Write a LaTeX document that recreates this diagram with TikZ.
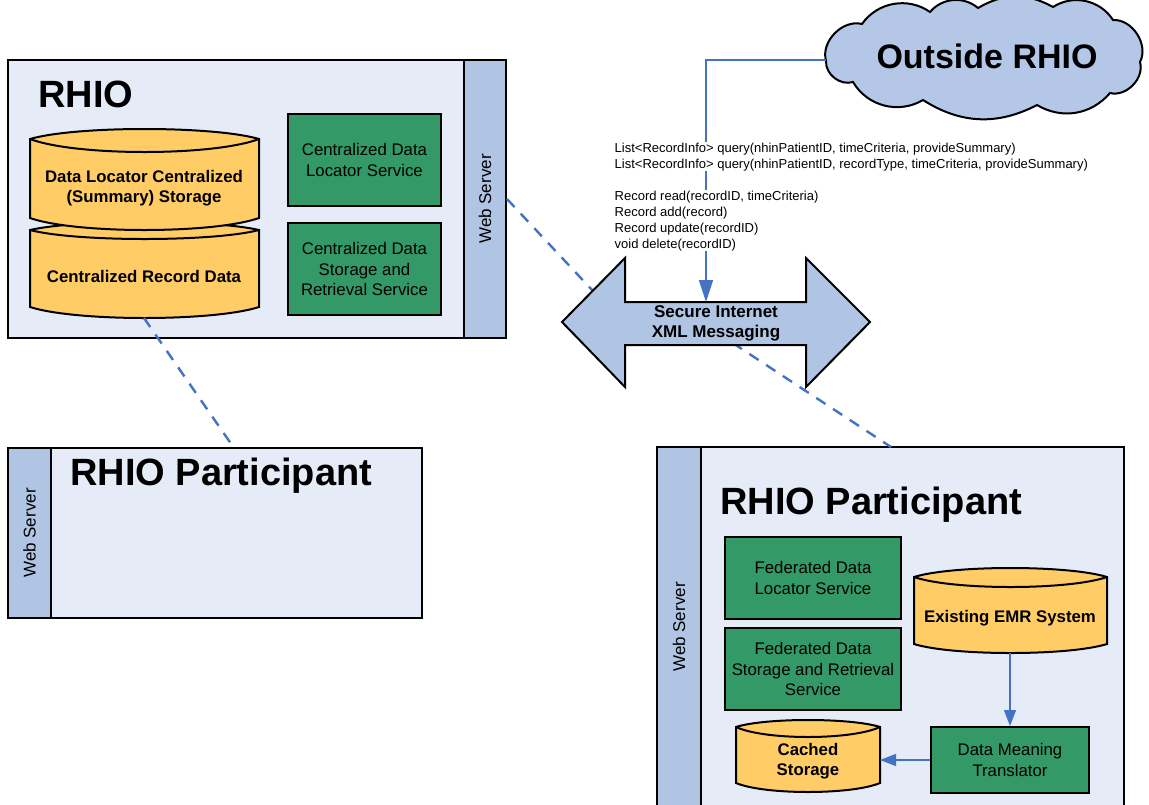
\documentclass[tikz,border=0pt]{standalone}
\usepackage{fontspec}
\setmainfont{Liberation Sans}
\usetikzlibrary{arrows.meta}

\definecolor{boxbg}{HTML}{E6ECF7}
\definecolor{stripbg}{HTML}{B0C4E4}
\definecolor{cloudbg}{HTML}{B4C7E7}
\definecolor{svcgreen}{HTML}{339966}
\definecolor{drumfill}{HTML}{FFCC66}
\definecolor{linkblue}{HTML}{4472C4}

\tikzset{
  frame/.style={draw=black, line width=2pt, fill=boxbg, inner sep=0pt},
  strip/.style={draw=black, line width=2pt, fill=stripbg, inner sep=0pt},
  svc/.style={draw=black, line width=2pt, fill=svcgreen, align=center, inner sep=0pt,
    font=\fontsize{16.8}{20.5}\selectfont},
  drum/.style={draw=black, line width=2pt, fill=drumfill},
  drum edge/.style={draw=black, line width=2pt},
  drumtext/.style={align=center, font=\fontsize{16.8}{20.5}\selectfont\bfseries},
  title/.style={anchor=base west, inner sep=0pt, font=\fontsize{38}{44}\selectfont\bfseries},
  wslabel/.style={rotate=90, font=\fontsize{17}{20}\selectfont},
  link/.style={draw=linkblue, line width=2.4pt, dash pattern=on 11pt off 9pt},
  flow/.style={draw=linkblue, line width=1.2pt, -{Triangle[length=16pt, width=12pt]}},
  bigflow/.style={draw=linkblue, line width=1.6pt, -{Triangle[length=22pt, width=14pt]}},
  api/.style={anchor=north west, fill=white, inner sep=0.5pt, align=left,
    font=\fontsize{13}{16}\selectfont},
}

% storage drum: left x, right x, top y, bottom y, top rise, inner dip, bottom dip
\newcommand{\drumshape}[7]{%
  \pgfmathsetmacro\dxa{#1+0.2*(#2-#1)}%
  \pgfmathsetmacro\dxb{#2-0.2*(#2-#1)}%
  \pgfmathsetmacro\dyt{#3-#5/0.75}%
  \pgfmathsetmacro\dyi{#3+#6/0.75}%
  \pgfmathsetmacro\dyb{#4+#7/0.75}%
  \path[drum] (#1,#3) .. controls (\dxa,\dyt) and (\dxb,\dyt) .. (#2,#3)
     -- (#2,#4) .. controls (\dxb,\dyb) and (\dxa,\dyb) .. (#1,#4) -- cycle;
  \path[drum edge] (#1,#3) .. controls (\dxa,\dyi) and (\dxb,\dyi) .. (#2,#3);
}

\begin{document}
\begin{tikzpicture}[x=1pt, y=-1pt]
\useasboundingbox (0,0) rectangle (1149,804);
\clip (0,0) rectangle (1149,804);

% ---------- RHIO ----------
\node[frame, minimum width=498pt, minimum height=278pt] (rhio) at (257,199) {};
\node[strip, minimum width=42pt, minimum height=278pt] (ws1) at (485,199) {};
\node[wslabel] at (ws1) {Web Server};
\node[title] (rhiot) at (38,107) {RHIO};

\drumshape{30}{259}{230}{307}{8}{9}{11}
\drumshape{30}{259}{139}{218}{10}{13}{12}
\node[drumtext] (dlcs) at (144,188) {Data Locator Centralized\\(Summary) Storage};
\node[drumtext] (crd) at (144,276) {Centralized Record Data};
\coordinate (crdbot) at (144,318);

\node[svc, minimum width=153pt, minimum height=92pt] (cdls) at (364.5,160) {Centralized Data\\Locator Service};
\node[svc, minimum width=153pt, minimum height=92pt] (cdsr) at (364.5,269) {Centralized Data\\Storage and\\Retrieval Service};

% ---------- RHIO participant (left) ----------
\node[frame, minimum width=414pt, minimum height=170pt] (lp) at (215,533) {};
\node[strip, minimum width=43pt, minimum height=170pt] (ws2) at (29.5,533) {};
\node[wslabel] at (ws2) {Web Server};
\node[title] (lpt) at (70,485) {RHIO Participant};
\coordinate (lpin) at (234,448);

% ---------- RHIO participant (right) ----------
\node[frame, minimum width=467pt, minimum height=383pt] (rp) at (890.5,638.5) {};
\node[strip, minimum width=44pt, minimum height=383pt] (ws3) at (679,638.5) {};
\node[wslabel] at (679,627) {Web Server};
\node[title] (rpt) at (720,514) {RHIO Participant};
\coordinate (rpin) at (891,447);

\node[svc, minimum width=176pt, minimum height=82pt] (fdls) at (813,578) {Federated Data\\Locator Service};
\node[svc, minimum width=176pt, minimum height=82pt] (fdsr) at (813,669) {Federated Data\\Storage and Retrieval\\Service};
\node[svc, minimum width=158pt, minimum height=66pt] (dmt) at (1010,760) {Data Meaning\\Translator};

\drumshape{914}{1107}{577}{644}{9}{10}{9}
\node[drumtext] (emr) at (1010,618) {Existing EMR System};
\coordinate (emrbot) at (1010,653);

\drumshape{736}{880}{727}{783}{7}{10}{9}
\node[drumtext] (cache) at (808,761) {Cached\\Storage};
\coordinate (cacheeast) at (880,760);

\draw[flow] (emrbot) -- (dmt.north);
\draw[flow] (dmt.west) -- (cacheeast);

% ---------- network links ----------
\coordinate (simleft) at (593,291);
\coordinate (simmid) at (716,332);
\draw[link] (ws1.east) -- (simleft);
\draw[link] (simmid) -- (rpin);
\draw[link] (crdbot) -- (lpin);

% ---------- secure messaging double arrow ----------
\path[draw=black, line width=2pt, fill=stripbg, line join=miter]
  (562,322) -- (625,258) -- (625,302) -- (806,302) -- (806,258) -- (870,322)
  -- (806,387) -- (806,345) -- (625,345) -- (625,387) -- cycle;
\node[align=center, font=\fontsize{17}{20}\selectfont\bfseries] (sim) at (716,323)
  {Secure Internet\\XML Messaging};
\coordinate (simtop) at (706,302);

% ---------- outside RHIO cloud ----------
\path[draw=black, line width=2pt, fill=cloudbg]
  (826,61) to[bend left=60] (862,24) to[bend left=45] (930,12)
  to[bend left=45] (978,8) to[bend left=30] (1053,7) to[bend left=45] (1113,20)
  to[bend left=60] (1140,62) to[bend left=60] (1110,93) to[bend left=40] (1037,105)
  to[bend left=30] (923,100) to[bend left=45] (853,82) to[bend left=55] (826,61) -- cycle;
\node[anchor=base, inner sep=0pt, font=\fontsize{34}{40}\selectfont\bfseries] (out) at (987,68) {Outside RHIO};
\coordinate (cloudwest) at (826,60);

\draw[bigflow] (cloudwest) -| (simtop);

% ---------- service interface ----------
\node[api] (q) at (614,142) {List<RecordInfo> query(nhinPatientID, timeCriteria, provideSummary)\\
List<RecordInfo> query(nhinPatientID, recordType, timeCriteria, provideSummary)};
\node[api] (rw) at (614,190) {Record read(recordID, timeCriteria)\\Record add(record)\\
Record update(recordID)\\void delete(recordID)};
\end{tikzpicture}
\end{document}
